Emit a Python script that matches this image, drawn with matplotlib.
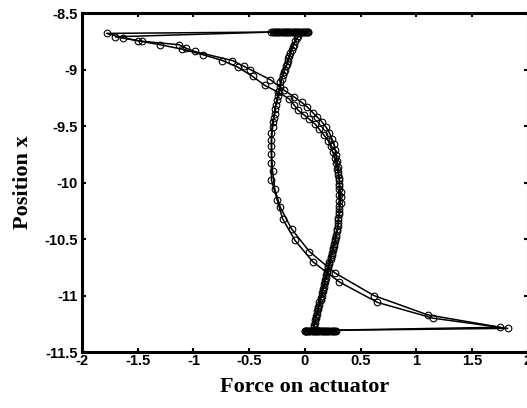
import matplotlib
matplotlib.use("Agg")
import matplotlib.pyplot as plt

# run 1 : force on actuator / position x
force_a = [
    # resting at the bottom
    0.00, 0.02, 0.04, 0.06, 0.08, 0.10, 0.12, 0.14, 0.16, 0.18, 0.20, 0.22, 0.24, 0.26, 0.28,
    # climbing
    0.07, 0.08, 0.09, 0.10, 0.11, 0.12, 0.13, 0.14, 0.15, 0.16, 0.17, 0.18, 0.19, 0.20, 0.21,
    0.22, 0.23, 0.24, 0.25, 0.26, 0.27, 0.28, 0.29, 0.30, 0.30, 0.31, 0.31, 0.31, 0.31, 0.31,
    0.31, 0.31, 0.30, 0.30, 0.29, 0.28, 0.27, 0.26, 0.24, 0.22, 0.19, 0.15, 0.11, 0.07, 0.02,
    -0.03, -0.10, -0.19, -0.31, -0.49, -0.55, -0.65, -0.99, -1.07, -1.13, -1.46, -1.63, -1.78,
    # resting at the top
    -0.30, -0.28, -0.26, -0.24, -0.22, -0.20, -0.18, -0.16, -0.14, -0.12, -0.10, -0.08, -0.06,
    -0.04, -0.02, 0.00, 0.02, 0.03,
    # falling
    -0.07, -0.10, -0.12, -0.14, -0.15, -0.17, -0.19, -0.21, -0.22, -0.24, -0.26, -0.27, -0.29,
    -0.30, -0.30, -0.30, -0.30, -0.25, -0.20, -0.09, 0.07, 0.31, 0.65, 1.15, 1.82,
    0.00,
]
pos_a = [
    -11.31, -11.31, -11.31, -11.31, -11.31, -11.31, -11.31, -11.31, -11.31, -11.31, -11.31,
    -11.31, -11.31, -11.31, -11.31,
    -11.30, -11.26, -11.22, -11.18, -11.14, -11.10, -11.06, -11.02, -10.98, -10.94, -10.90,
    -10.86, -10.82, -10.78, -10.74, -10.70, -10.66, -10.62, -10.58, -10.54, -10.50, -10.46,
    -10.41, -10.36, -10.31, -10.26, -10.21, -10.16, -10.11, -10.06, -10.01, -9.96, -9.91,
    -9.86, -9.81, -9.76, -9.71, -9.66, -9.61, -9.56, -9.51, -9.46, -9.42, -9.38, -9.33,
    -9.29, -9.24, -9.18, -9.09, -9.00, -8.97, -8.92, -8.84, -8.81, -8.78, -8.75, -8.72, -8.68,
    -8.668, -8.668, -8.668, -8.668, -8.668, -8.668, -8.668, -8.668, -8.668, -8.668, -8.668,
    -8.668, -8.668, -8.668, -8.668, -8.668, -8.668, -8.668,
    -8.72, -8.78, -8.83, -8.88, -8.92, -8.97, -9.02, -9.08, -9.15, -9.23, -9.31, -9.39, -9.46,
    -9.56, -9.68, -9.83, -9.98, -10.15, -10.32, -10.51, -10.70, -10.88, -11.06, -11.20, -11.29,
    -11.31,
]

# run 2
force_b = [
    0.01, 0.03, 0.05, 0.07, 0.09, 0.11, 0.13, 0.15, 0.17, 0.19, 0.21, 0.23, 0.25, 0.27,
    0.08, 0.09, 0.10, 0.11, 0.12, 0.13, 0.14, 0.15, 0.16, 0.17, 0.18, 0.19, 0.20, 0.21, 0.22,
    0.23, 0.24, 0.25, 0.26, 0.27, 0.28, 0.29, 0.30, 0.30, 0.31, 0.31, 0.32, 0.32, 0.32, 0.31,
    0.31, 0.30, 0.29, 0.28, 0.27, 0.25, 0.23, 0.21, 0.17, 0.13, 0.09, 0.04, -0.01, -0.06,
    -0.10, -0.14, -0.24, -0.36, -0.47, -0.60, -0.74, -0.91, -1.10, -1.30, -1.50, -1.70,
    -0.29, -0.27, -0.25, -0.23, -0.21, -0.19, -0.17, -0.15, -0.13, -0.11, -0.09, -0.07, -0.05,
    -0.03, -0.01, 0.01, 0.03,
    -0.06, -0.09, -0.11, -0.13, -0.15, -0.16, -0.18, -0.20, -0.22, -0.23, -0.25, -0.27, -0.28,
    -0.29, -0.30, -0.30, -0.29, -0.27, -0.22, -0.12, 0.04, 0.27, 0.62, 1.10, 1.75,
    0.01,
]
pos_b = [
    -11.31, -11.31, -11.31, -11.31, -11.31, -11.31, -11.31, -11.31, -11.31, -11.31, -11.31,
    -11.31, -11.31, -11.31,
    -11.28, -11.24, -11.20, -11.16, -11.12, -11.08, -11.04, -11.00, -10.96, -10.92, -10.88,
    -10.84, -10.80, -10.76, -10.72, -10.68, -10.64, -10.60, -10.56, -10.52, -10.48, -10.43,
    -10.38, -10.33, -10.28, -10.23, -10.18, -10.13, -10.08, -10.03, -9.98, -9.93, -9.88,
    -9.83, -9.78, -9.73, -9.68, -9.63, -9.58, -9.53, -9.48, -9.44, -9.40, -9.36, -9.31,
    -9.26, -9.20, -9.14, -9.06, -8.98, -8.92, -8.87, -8.82, -8.78, -8.745, -8.71,
    -8.668, -8.668, -8.668, -8.668, -8.668, -8.668, -8.668, -8.668, -8.668, -8.668, -8.668,
    -8.668, -8.668, -8.668, -8.668, -8.668, -8.668,
    -8.70, -8.75, -8.80, -8.85, -8.90, -8.95, -9.00, -9.05, -9.11, -9.19, -9.27, -9.35, -9.43,
    -9.51, -9.62, -9.75, -9.90, -10.06, -10.22, -10.41, -10.61, -10.80, -11.00, -11.17, -11.28,
    -11.31,
]

xticks = [-2, -1.5, -1, -0.5, 0, 0.5, 1, 1.5, 2]
yticks = [-11.5, -11, -10.5, -10, -9.5, -9, -8.5]

fig = plt.figure(figsize=(5.27, 4.08), dpi=100)
ax = fig.add_axes([0.1556, 0.137, 0.846, 0.831])

for f, p in [(force_a, pos_a), (force_b, pos_b)]:
    ax.plot(f, p, color='black', lw=1.1, marker='o', ms=4.8,
            mfc='none', mec='black', mew=0.8)

ax.set_xlim(-2, 2)
ax.set_ylim(-11.5, -8.5)
ax.set_xticks(xticks)
ax.set_yticks(yticks)
ax.set_xticklabels(['%g' % t for t in xticks])
ax.set_yticklabels(['%g' % t for t in yticks])

for s in ax.spines.values():
    s.set_linewidth(2.2)
ax.tick_params(direction='in', length=3, width=1.5, top=True, right=True,
               labelsize=10.5)
ax.tick_params(axis='x', pad=1.5)
ax.tick_params(axis='y', pad=3)
for lab in ax.get_xticklabels() + ax.get_yticklabels():
    lab.set_fontweight('bold')
    lab.set_family(['Liberation Sans', 'DejaVu Sans'])

ax.set_xlabel('Force on actuator', fontsize=16, fontweight='bold',
              family=['Liberation Serif', 'DejaVu Serif'], labelpad=6)
ax.set_ylabel('Position x', fontsize=16, fontweight='bold',
              family=['Liberation Serif', 'DejaVu Serif'], labelpad=8)

fig.savefig('out.png', dpi=100)
